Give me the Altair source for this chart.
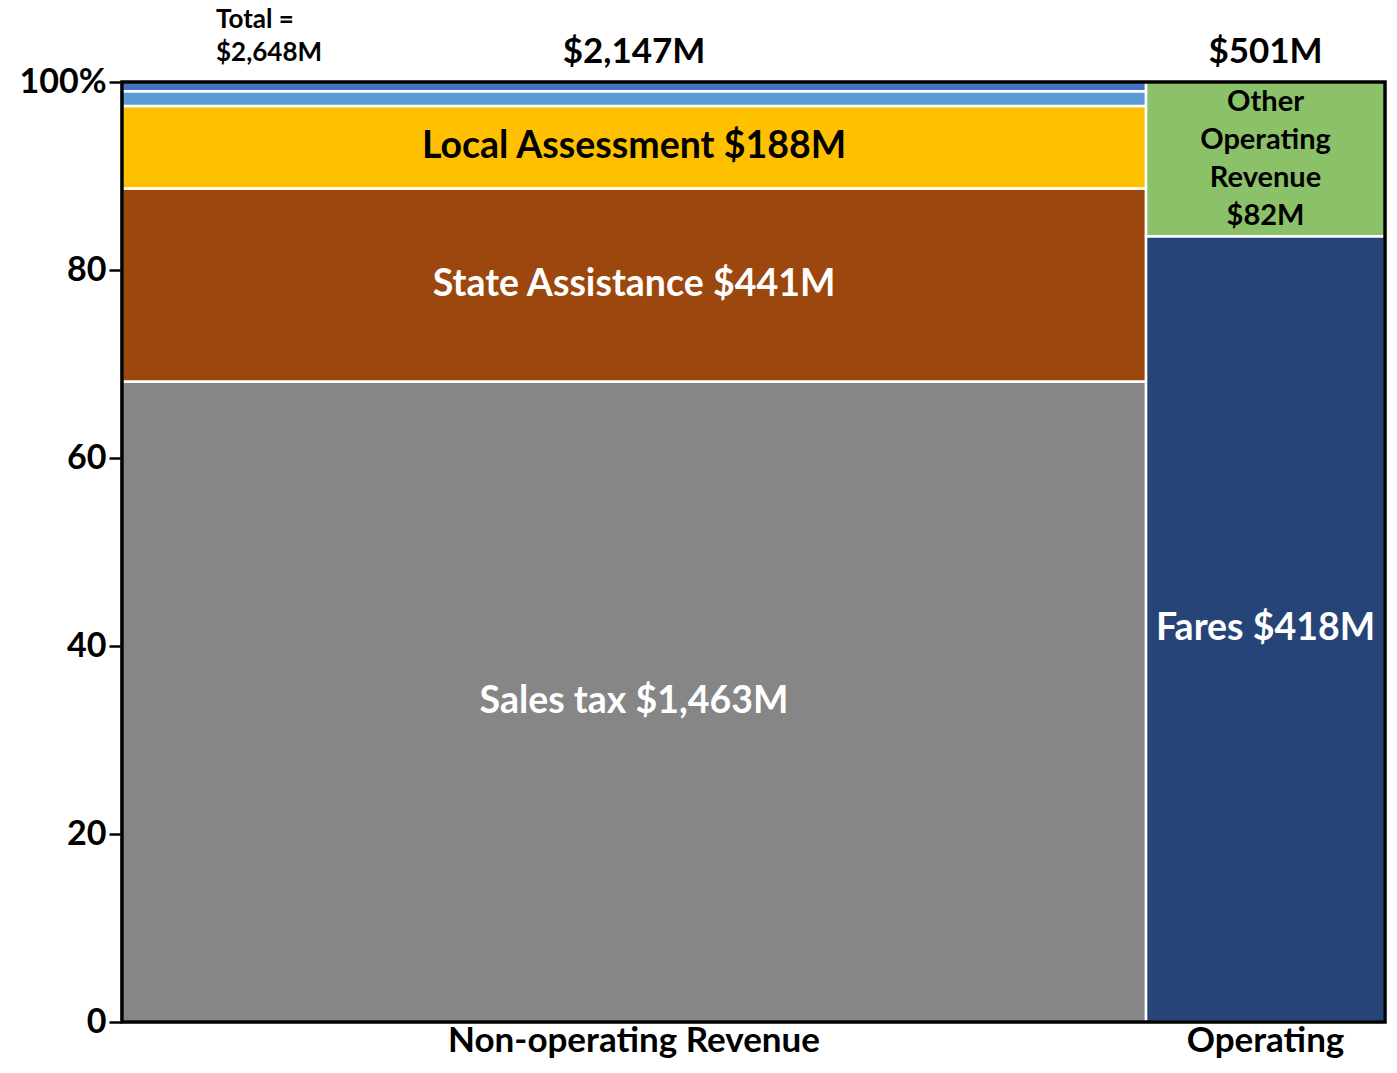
import altair as alt
import pandas as pd

# ---- data ----
columns = ["Non-operating Revenue", "Operating"]
column_totals = [2147, 501]          # $M, drives column widths
column_total_labels = ["$2,147M", "$501M"]
grand_total_label = ["Total =", "$2,648M"]

seg_column = ["Non-operating Revenue"] * 5 + ["Operating"] * 2
seg_name = ["Sales tax", "State Assistance", "Local Assessment", "Other A", "Other B",
            "Fares", "Other Operating Revenue"]
seg_value = [1463, 441, 188, 34, 21, 418, 82]
seg_label = ["Sales tax $1,463M", "State Assistance $441M", "Local Assessment $188M", "", "",
             "Fares $418M", "Other\nOperating\nRevenue\n$82M"]

# ---- styles ----
seg_colors = ["#868686", "#9C470D", "#FFC000", "#5B9BD5", "#4472C4", "#264478", "#8BC168"]
dark_text = ["Local Assessment", "Other Operating Revenue"]
FONT = "Lato"

# ---- build table ----
rows = []
x_start = 0
for col, tot in zip(columns, column_totals):
    idx = [i for i, c in enumerate(seg_column) if c == col]
    col_sum = sum(seg_value[i] for i in idx)
    cum = 0
    for i in idx:
        y0 = cum / col_sum * 100
        cum += seg_value[i]
        y1 = cum / col_sum * 100
        rows.append(dict(column=col, name=seg_name[i], value=seg_value[i], label=seg_label[i],
                         x0=x_start, x1=x_start + tot, xm=x_start + tot / 2,
                         y0=y0, y1=y1, ym=(y0 + y1) / 2))
    x_start += tot
df = pd.DataFrame(rows)

hdr = pd.DataFrame(dict(
    column=columns,
    total=column_total_labels,
    xm=[df[df.column == c].xm.iloc[0] for c in columns],
))

W, H = 1263, 940
xs = alt.Scale(domain=[0, sum(column_totals)], nice=False, zero=True)
ys = alt.Scale(domain=[0, 100], nice=False)

base = alt.Chart(df)

rects = base.mark_rect(stroke="white", strokeWidth=2.5).encode(
    x=alt.X("x0:Q", scale=xs, axis=None),
    x2="x1:Q",
    y=alt.Y("y0:Q", scale=ys, axis=alt.Axis(
        values=[0, 20, 40, 60, 80, 100], title=None, grid=False,
        labelExpr="datum.value == 100 ? '100%' : datum.value",
        labelFont=FONT, labelFontSize=34, labelFontWeight="bold", labelColor="black",
        labelPadding=3, tickSize=13, tickWidth=2.5, tickColor="black",
        domainColor="black", domainWidth=3.5)),
    y2="y1:Q",
    color=alt.Color("name:N", scale=alt.Scale(domain=seg_name, range=seg_colors), legend=None),
)

frame = alt.Chart(pd.DataFrame({"f": [0]})).mark_rect(
    fill=None, stroke="black", strokeWidth=3.5
).encode(x=alt.value(0), x2=alt.value(W), y=alt.value(0), y2=alt.value(H))

light_names = [n for n in seg_name if n not in dark_text]

txt_light = base.transform_filter(
    alt.FieldOneOfPredicate(field="name", oneOf=light_names)).mark_text(
    font=FONT, fontWeight="bold", fontSize=37.5, color="white"
).encode(x=alt.X("xm:Q", scale=xs), y=alt.Y("ym:Q", scale=ys), text="label:N")

txt_dark_big = base.transform_filter("datum.name == 'Local Assessment'").mark_text(
    font=FONT, fontWeight="bold", fontSize=37.5, color="black"
).encode(x=alt.X("xm:Q", scale=xs), y=alt.Y("ym:Q", scale=ys), text="label:N")

txt_dark_small = base.transform_filter("datum.name == 'Other Operating Revenue'").mark_text(
    font=FONT, fontWeight="bold", fontSize=29, color="black", lineBreak="\n", lineHeight=38,
    dy=-57
).encode(x=alt.X("xm:Q", scale=xs), y=alt.Y("ym:Q", scale=ys), text="label:N")

hbase = alt.Chart(hdr)
col_tot = hbase.mark_text(font=FONT, fontWeight="bold", fontSize=35, color="black",
                          baseline="middle").encode(
    x=alt.X("xm:Q", scale=xs), y=alt.value(-30), text="total:N")
col_name = hbase.mark_text(font=FONT, fontWeight="bold", fontSize=35, color="black",
                           baseline="middle").encode(
    x=alt.X("xm:Q", scale=xs), y=alt.value(H + 19), text="column:N")

gt = pd.DataFrame(dict(t=grand_total_label))
grand1 = alt.Chart(gt).transform_filter(alt.datum.t == grand_total_label[0]).mark_text(
    font=FONT, fontWeight="bold", fontSize=26, color="black",
    align="left", baseline="middle").encode(x=alt.value(94), y=alt.value(-62), text="t:N")
grand2 = alt.Chart(gt).transform_filter(alt.datum.t == grand_total_label[1]).mark_text(
    font=FONT, fontWeight="bold", fontSize=26, color="black",
    align="left", baseline="middle").encode(x=alt.value(94), y=alt.value(-29), text="t:N")

chart = alt.layer(rects, frame, txt_light, txt_dark_big, txt_dark_small, col_tot, col_name,
                  grand1, grand2).properties(
    width=W, height=H,
    autosize=alt.AutoSizeParams(type="none"),
    padding={"left": 114, "top": 74, "right": 4, "bottom": 38},
).configure_view(strokeWidth=0)

chart.save("out.html", embed_options={"renderer": "svg", "actions": False})
